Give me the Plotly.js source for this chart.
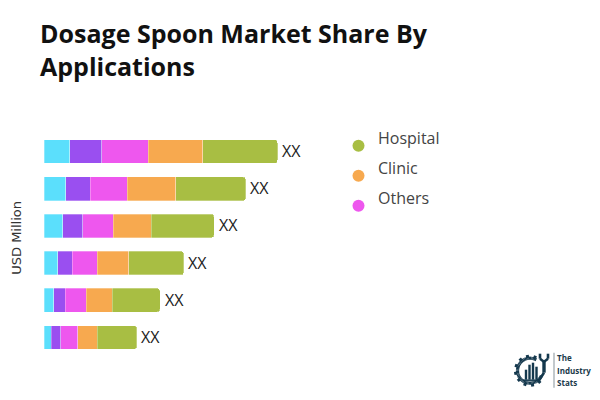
<!DOCTYPE html>
<html><head><meta charset="utf-8">
<script src="https://cdn.plot.ly/plotly-3.0.1.min.js"></script>
<style>html,body{margin:0;padding:0;background:#fff}#c{width:600px;height:400px}</style>
</head><body><div id="c"></div>
<script>
const categories = ['A','B','C','D','E','F'];
const cyan   = [25.5, 21.7, 18.7, 13.5, 9.6, 7.4];
const purple = [32, 24.3, 20, 14.7, 11.7, 9.3];
const others = [46.6, 37, 30.6, 25, 21, 17];
const clinic = [54.4, 48.7, 37.7, 31.3, 26, 19.3];
const hospital = [75, 70, 63, 55.3, 47.7, 39.7];
const seriesNames = ['Segment 1','Segment 2','Others','Clinic','Hospital'];
const seriesColors = ['#5BDFFC','#9A4FF0','#EE57EE','#F7A94F','#A8BE43'];
const series = [cyan,purple,others,clinic,hospital];
const barLabels = ['XX','XX','XX','XX','XX','XX'];
const legendNames = ['Hospital','Clinic','Others'];
const legendColors = ['#A8BE43','#F7A94F','#EE57EE'];
const logoWords = ['The','Industry','Stats'];

const L=44,T=133.2,W=256,H=223.1;
const px=x=>(x-L)/W, py=y=>1-(y-T)/H;
const totals = categories.map((_,i)=>series.reduce((s,a)=>s+a[i],0));
const traces = series.map((v,i)=>({type:'bar',orientation:'h',x:v,y:categories,name:seriesNames[i],
  marker:{color:seriesColors[i],line:{color:'rgba(255,255,255,0.6)',width:0.5}},hoverinfo:'skip',showlegend:false}));

const shapes=[], annotations=[];
categories.forEach((c,i)=>annotations.push({xref:'x',yref:'y',x:totals[i],y:c,xanchor:'left',yanchor:'middle',
  text:barLabels[i],showarrow:false,xshift:2.5,yshift:0.5,font:{family:'Open Sans',size:16,color:'#222'}}));
legendNames.forEach((n,i)=>{
  const ym=146+30*i;
  shapes.push({type:'circle',xref:'paper',yref:'paper',xsizemode:'pixel',ysizemode:'pixel',
    xanchor:px(358.5),yanchor:py(ym),x0:-6,x1:6,y0:-6,y1:6,fillcolor:legendColors[i],line:{width:0}});
  annotations.push({xref:'paper',yref:'paper',x:px(376),y:py(ym-8),xanchor:'left',yanchor:'middle',
    text:n,showarrow:false,font:{family:'Open Sans',size:16,color:'#444'}});
});
annotations.push({xref:'paper',yref:'paper',x:px(17),y:py(238),xanchor:'center',yanchor:'middle',textangle:-90,
  text:'USD Million',showarrow:false,font:{family:'DejaVu Sans',size:13,color:'#333'}});
logoWords.forEach((w,i)=>annotations.push({xref:'paper',yref:'paper',x:px(555),y:py(358+12.5*i),xanchor:'left',yanchor:'middle',
  text:'<b>'+w+'</b>',showarrow:false,font:{family:'Open Sans',size:8,color:'#1b3a4b'}}));

// logo drawing (page decoration)
const ink='#14384d', cx=530, cy=371;
const P=(r,a)=>[cx+r*Math.cos(a*Math.PI/180),cy+r*Math.sin(a*Math.PI/180)];
const seg=(a,b,w,c)=>shapes.push({type:'line',xref:'paper',yref:'paper',x0:px(a[0]),y0:py(a[1]),x1:px(b[0]),y1:py(b[1]),line:{color:c||ink,width:w}});
for(let a=-60;a>=-330;a-=6) seg(P(12.5,a),P(12.5,a-6),3.2);
for(let a=-70;a>=-330;a-=30) seg(P(13,a),P(16,a),3);
[[526,370,380],[529.5,365,380],[533,363,380],[536.5,367,380]].forEach(b=>seg([b[0],b[1]],[b[0],b[2]],2.4));
seg([523,380.5],[538,380.5],1.5);
seg([544,361],[544,373],3.4);
seg([544,373],[538,382],2.6);
seg([540,354],[540,359],2.6);
seg([548,354],[548,359],2.6);
seg([540,359],[544,362],2.6);
seg([548,359],[544,362],2.6);
seg([554,353],[554,388],1.2,'#9aa5ab');

Plotly.newPlot('c',traces,{
  width:600,height:400,paper_bgcolor:'#fff',plot_bgcolor:'#fff',
  barmode:'stack',bargap:0.36,barcornerradius:3,
  margin:{l:L,r:600-L-W,t:T,b:400-T-H,pad:0},
  title:{text:'<b>Dosage Spoon Market Share By<br>Applications</b>',x:40/600,xanchor:'left',y:0.892,yanchor:'bottom',
    font:{family:'Open Sans',size:25,color:'#111'}},
  xaxis:{range:[0,W],visible:false,fixedrange:true},
  yaxis:{type:'category',categoryorder:'array',categoryarray:categories,autorange:'reversed',showticklabels:false,showgrid:false,zeroline:false,showline:false,ticks:'',fixedrange:true},
  shapes,annotations,showlegend:false
},{displayModeBar:false,staticPlot:true});
</script></body></html>
